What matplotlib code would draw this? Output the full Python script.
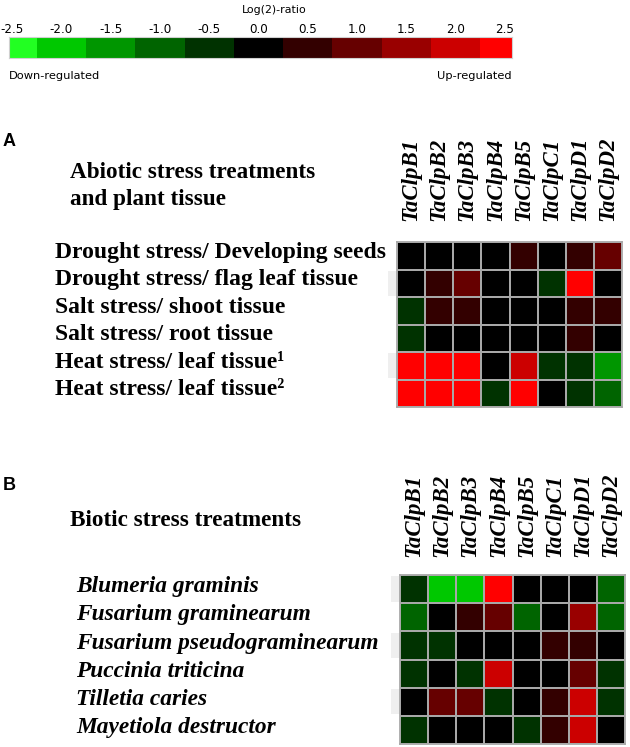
import matplotlib
matplotlib.use("Agg")
import matplotlib.pyplot as plt
import numpy as np
from matplotlib.colors import ListedColormap, BoundaryNorm
from matplotlib.patches import Rectangle
import matplotlib.transforms as mtransforms

# ---------------- data ----------------
genes = ["TaClpB1", "TaClpB2", "TaClpB3", "TaClpB4", "TaClpB5", "TaClpC1", "TaClpD1", "TaClpD2"]

scale_levels = [-2.5, -2.0, -1.5, -1.0, -0.5, 0.0, 0.5, 1.0, 1.5, 2.0, 2.5]
scale_colors = ["#22FF22", "#00C800", "#009600", "#006400", "#003200", "#000000",
                "#330000", "#660000", "#990000", "#CC0000", "#FF0000"]

abiotic_conditions = [
    "Drought stress/ Developing seeds",
    "Drought stress/ flag leaf tissue",
    "Salt stress/ shoot tissue",
    "Salt stress/ root tissue",
    "Heat stress/ leaf tissue\u00b9",
    "Heat stress/ leaf tissue\u00b2",
]
abiotic_values = [
    [0.0, 0.0, 0.0, 0.0, 0.5, 0.0, 0.5, 1.0],
    [0.0, 0.5, 1.0, 0.0, 0.0, -0.5, 2.5, 0.0],
    [-0.5, 0.5, 0.5, 0.0, 0.0, 0.0, 0.5, 0.5],
    [-0.5, 0.0, 0.0, 0.0, 0.0, 0.0, 0.5, 0.0],
    [2.5, 2.5, 2.5, 0.0, 2.0, -0.5, -0.5, -1.5],
    [2.5, 2.5, 2.5, -0.5, 2.5, 0.0, -0.5, -1.0],
]

biotic_conditions = [
    "Blumeria graminis",
    "Fusarium graminearum",
    "Fusarium pseudograminearum",
    "Puccinia triticina",
    "Tilletia caries",
    "Mayetiola destructor",
]
biotic_values = [
    [-0.5, -2.0, -2.0, 2.5, 0.0, 0.0, 0.0, -1.0],
    [-1.0, 0.0, 0.5, 1.0, -1.0, 0.0, 1.5, -1.0],
    [-0.5, -0.5, 0.0, 0.0, 0.0, 0.5, 0.5, 0.0],
    [-0.5, 0.0, -0.5, 2.0, 0.0, 0.0, 1.0, -0.5],
    [0.0, 1.0, 1.0, -0.5, 0.0, 0.5, 2.0, -0.5],
    [-0.5, 0.0, 0.0, 0.0, -0.5, 0.5, 2.0, 0.0],
]

# ---------------- setup ----------------
W, H = 630, 747
fig = plt.figure(figsize=(W / 100, H / 100), dpi=100)
fig.patch.set_facecolor("white")

cmap = ListedColormap(scale_colors)
bounds = np.concatenate([[scale_levels[0] - 0.25], np.array(scale_levels) + 0.25])
norm = BoundaryNorm(bounds, cmap.N)

SERIF = "Liberation Serif"
GRID = "#a8a8a8"


def px_axes(x0, y0, x1, y1):
    return fig.add_axes([x0 / W, 1 - y1 / H, (x1 - x0) / W, (y1 - y0) / H])


# ---------------- colour scale ----------------
cb = px_axes(9, 37, 512, 58)
ppu = (505 - 12) / (scale_levels[-1] - scale_levels[0])
lo = scale_levels[0] - 3 / ppu
hi = scale_levels[-1] + 7 / ppu
edges = np.concatenate([[lo], np.array(scale_levels[:-1]) + 0.25, [hi]])
cb.pcolormesh(edges, [0, 1], np.array([scale_levels]), cmap=cmap, norm=norm)
cb.set_xlim(lo, hi)
cb.set_ylim(0, 1)
cb.xaxis.tick_top()
cb.set_xticks(scale_levels)
cb.set_xticklabels([f"{v:.1f}" for v in scale_levels], fontsize=8.6, family="DejaVu Sans")
cb.tick_params(axis="x", length=0, pad=1)
cb.set_yticks([])
for s in cb.spines.values():
    s.set_color("#d0d0d0")
    s.set_linewidth(0.8)
fig.text(274 / W, 1 - 10 / H, "Log(2)-ratio", ha="center", va="center", fontsize=7.9, family="DejaVu Sans")
fig.text(9 / W, 1 - 76 / H, "Down-regulated", ha="left", va="center", fontsize=8.2, family="DejaVu Sans")
fig.text(512 / W, 1 - 76 / H, "Up-regulated", ha="right", va="center", fontsize=8.2, family="DejaVu Sans")


# ---------------- heatmaps ----------------
def heatmap(box, values, conditions, label_x, label_style, label_size, label_dy, col_pad, shaded_rows):
    ax = px_axes(*box)
    data = np.array(values)
    nr, nc = data.shape
    ax.pcolormesh(np.arange(nc + 1), np.arange(nr + 1), data, cmap=cmap, norm=norm,
                  edgecolors=GRID, linewidth=1.3)
    ax.set_xlim(0, nc)
    ax.set_ylim(nr, 0)
    ax.xaxis.tick_top()
    ax.set_xticks(np.arange(nc) + 0.5)
    ax.set_xticklabels(genes, rotation=90, family=SERIF, fontweight="bold",
                       fontstyle="italic", fontsize=16.5)
    ax.tick_params(axis="x", length=0, pad=col_pad)
    ax.set_yticks([])
    for s in ax.spines.values():
        s.set_color(GRID)
        s.set_linewidth(1.3)
    for r in shaded_rows:
        ax.add_patch(Rectangle((-0.33, r + 0.05), 0.33, 0.9, facecolor="#efefef",
                               edgecolor="none", clip_on=False, zorder=0))
    tr = mtransforms.blended_transform_factory(fig.transFigure, ax.transData)
    for i, c in enumerate(conditions):
        ax.text(label_x / W, i + 0.5 + label_dy, c, transform=tr, ha="left", va="center",
                family=SERIF, fontweight="bold", fontstyle=label_style, fontsize=label_size)
    return ax


heatmap((397, 242, 622, 407), abiotic_values, abiotic_conditions, 55, "normal", 17, -0.12, 15, [1, 4])
heatmap((400, 575, 625, 744), biotic_values, biotic_conditions, 76, "italic", 16.8, -0.08, 13, [0, 2, 4])

# panel letters and titles
fig.text(3 / W, 1 - 142 / H, "A", ha="left", va="center", fontsize=13, fontweight="bold", family="Liberation Sans")
fig.text(3 / W, 1 - 485 / H, "B", ha="left", va="center", fontsize=13, fontweight="bold", family="Liberation Sans")
fig.text(70 / W, 1 - 173 / H, "Abiotic stress treatments", ha="left", va="center",
         fontsize=16.7, fontweight="bold", family=SERIF)
fig.text(70 / W, 1 - 200 / H, "and plant tissue", ha="left", va="center",
         fontsize=16.7, fontweight="bold", family=SERIF)
fig.text(70 / W, 1 - 520 / H, "Biotic stress treatments", ha="left", va="center",
         fontsize=16.7, fontweight="bold", family=SERIF)

fig.savefig("out.png", dpi=100, facecolor="white")
